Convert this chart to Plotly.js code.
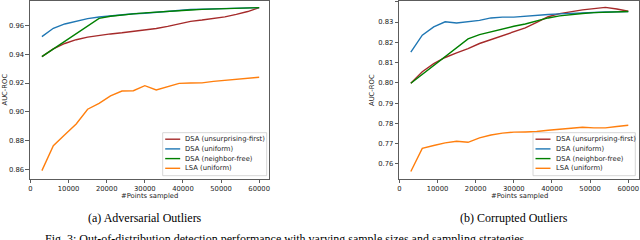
<!DOCTYPE html>
<html>
<head>
<meta charset="utf-8">
<script src="https://cdn.plot.ly/plotly-3.0.1.min.js"></script>
<style>html,body{margin:0;padding:0;background:#fff;}#chart{width:640px;height:240px;}</style>
</head>
<body>
<div id="chart"></div>
<script>
// ---- data ----
var samples = [3000, 6000, 9000, 12000, 15000, 18000, 21000, 24000, 27000, 30000,
               33000, 36000, 39000, 42000, 45000, 48000, 51000, 54000, 57000, 60000];
var samplesNeighbor = [3000, 18000, 21000, 24000, 27000, 30000, 33000, 36000,
                       39000, 42000, 45000, 48000, 51000, 54000, 57000, 60000];

var seriesNames = ['DSA (unsurprising-first)', 'DSA (uniform)', 'DSA (neighbor-free)', 'LSA (uniform)'];
var seriesColors = ['#a52a2a', '#1f77b4', '#008000', '#ff7f0e'];

// (a) Adversarial Outliers
var advUnsurprising = [0.9383, 0.9436, 0.9474, 0.9500, 0.9518, 0.9531, 0.9540, 0.9548, 0.9557, 0.9567,
                       0.9578, 0.9592, 0.9609, 0.9627, 0.9636, 0.9645, 0.9658, 0.9675, 0.9695, 0.9722];
var advUniform = [0.9521, 0.9579, 0.9609, 0.9630, 0.9646, 0.9657, 0.9665, 0.9674, 0.9680, 0.9683,
                  0.9690, 0.9698, 0.9704, 0.9709, 0.9712, 0.9714, 0.9716, 0.9718, 0.9720, 0.9722];
var advNeighbor = [0.9383, 0.9648, 0.9662, 0.9672, 0.9679, 0.9686, 0.9692, 0.9697,
                   0.9702, 0.9706, 0.9710, 0.9713, 0.9716, 0.9718, 0.9720, 0.9722];
var advLSA = [0.8594, 0.8767, 0.8842, 0.8917, 0.9019, 0.9060, 0.9111, 0.9145, 0.9147, 0.9182,
              0.9152, 0.9175, 0.9198, 0.9200, 0.9201, 0.9212, 0.9220, 0.9229, 0.9233, 0.9240];

// (b) Corrupted Outliers
var corUnsurprising = [0.7998, 0.8055, 0.8095, 0.8125, 0.8148, 0.8169, 0.8194, 0.8214, 0.8232, 0.8251,
                       0.8271, 0.8298, 0.8326, 0.8341, 0.8352, 0.8360, 0.8366, 0.8372, 0.8364, 0.8353];
var corUniform = [0.8152, 0.8235, 0.8276, 0.8301, 0.8295, 0.8300, 0.8308, 0.8320, 0.8324, 0.8324,
                  0.8329, 0.8333, 0.8337, 0.8340, 0.8343, 0.8346, 0.8348, 0.8349, 0.8350, 0.8351];
var corNeighbor = [0.7998, 0.8217, 0.8238, 0.8252, 0.8266, 0.8279, 0.8290, 0.8306,
                   0.8320, 0.8330, 0.8337, 0.8342, 0.8346, 0.8349, 0.8351, 0.8352];
var corLSA = [0.7563, 0.7677, 0.7691, 0.7704, 0.7712, 0.7707, 0.7729, 0.7743, 0.7752, 0.7757,
              0.7758, 0.7760, 0.7766, 0.7770, 0.7776, 0.7781, 0.7778, 0.7778, 0.7785, 0.7791];

var xTicks = [0, 10000, 20000, 30000, 40000, 50000, 60000];
var advYTicks = [0.86, 0.88, 0.90, 0.92, 0.94, 0.96];
var corYTicks = [0.76, 0.77, 0.78, 0.79, 0.80, 0.81, 0.82, 0.83, 0.84];

var xTitle = '#Points sampled';
var yTitle = 'AUC-ROC';
var captionA = '(a) Adversarial Outliers';
var captionB = '(b) Corrupted Outliers';
var figCaption = 'Fig. 3: Out-of-distribution detection performance with varying sample sizes and sampling strategies.';

// ---- traces ----
var FONT = 'DejaVu Sans, sans-serif';
var SERIF = 'Liberation Serif, Times New Roman, serif';
function line(x, y, i, xa, ya) {
  return {x: x, y: y, type: 'scatter', mode: 'lines', name: seriesNames[i],
          xaxis: xa, yaxis: ya, showlegend: false,
          line: {color: seriesColors[i], width: 1.4}, hoverinfo: 'skip'};
}
var data = [
  line(samples, advUnsurprising, 0, 'x', 'y'),
  line(samples, advUniform, 1, 'x', 'y'),
  line(samplesNeighbor, advNeighbor, 2, 'x', 'y'),
  line(samples, advLSA, 3, 'x', 'y'),
  line(samples, corUnsurprising, 0, 'x2', 'y2'),
  line(samples, corUniform, 1, 'x2', 'y2'),
  line(samplesNeighbor, corNeighbor, 2, 'x2', 'y2'),
  line(samples, corLSA, 3, 'x2', 'y2')
];

// ---- layout ----
function PX(v) { return v / 640; }
function PY(v) { return 1 - v / 240; }
var tickFont = {family: FONT, size: 6.8, color: '#222'};
function axisBase() {
  return {showline: true, mirror: true, linecolor: '#333', linewidth: 0.8,
          ticks: 'outside', ticklen: 3.5, tickwidth: 0.8, tickcolor: '#333',
          showgrid: false, zeroline: false, tickfont: tickFont, fixedrange: true};
}
var yDom = [PY(179), PY(0.7)];
var xaxis = Object.assign(axisBase(), {domain: [PX(29.7), PX(269.2)], range: [-200, 62630],
  anchor: 'y', tickvals: xTicks, ticktext: xTicks.map(String)});
var xaxis2 = Object.assign(axisBase(), {domain: [PX(399), PX(638.7)], range: [-100, 62730],
  anchor: 'y2', tickvals: xTicks, ticktext: xTicks.map(String)});
var yaxis = Object.assign(axisBase(), {domain: yDom, range: [0.8536, 0.9770], anchor: 'x',
  tickvals: advYTicks, ticktext: advYTicks.map(function(v){return v.toFixed(2);})});
var yaxis2 = Object.assign(axisBase(), {domain: yDom, range: [0.7526, 0.8405], anchor: 'x2',
  tickvals: corYTicks, ticktext: corYTicks.map(function(v){return v.toFixed(2);})});

var annotations = [];
var shapes = [];
function txt(t, x, y, opts) {
  annotations.push(Object.assign({text: t, xref: 'paper', yref: 'paper', x: PX(x), y: PY(y),
    showarrow: false, xanchor: 'center', yanchor: 'middle',
    font: {family: FONT, size: 6.8, color: '#222'}}, opts || {}));
}
txt(xTitle, 149.5, 196);
txt(xTitle, 519, 196);
txt(yTitle, 4.5, 90, {textangle: -90});
txt(yTitle, 372, 90, {textangle: -90});
txt(captionA, 145, 218, {font: {family: SERIF, size: 12, color: '#000'}});
txt(captionB, 514, 218, {font: {family: SERIF, size: 12, color: '#000'}});
txt(figCaption, 43, 238.5, {xanchor: 'left', font: {family: SERIF, size: 12, color: '#000'}});

// legends (one per panel)
function legend(x0, w) {
  var top = 132.7, bottom = 175.7;
  shapes.push({type: 'rect', xref: 'paper', yref: 'paper', x0: PX(x0), x1: PX(x0 + w),
    y0: PY(bottom), y1: PY(top), fillcolor: 'rgba(255,255,255,0.85)',
    line: {color: '#cccccc', width: 0.8}, layer: 'above'});
  var rows = [139.2, 148.9, 158.6, 168.3];
  for (var i = 0; i < seriesNames.length; i++) {
    shapes.push({type: 'line', xref: 'paper', yref: 'paper', x0: PX(x0 + 2.5), x1: PX(x0 + 17.5),
      y0: PY(rows[i]), y1: PY(rows[i]), line: {color: seriesColors[i], width: 1.4}, layer: 'above'});
    txt(seriesNames[i], x0 + 20.5, rows[i], {xanchor: 'left'});
  }
}
legend(162.7, 104);
legend(533, 102.3);

var layout = {width: 640, height: 240, margin: {l: 0, r: 0, t: 0, b: 0},
  paper_bgcolor: '#fff', plot_bgcolor: '#fff', showlegend: false,
  xaxis: xaxis, yaxis: yaxis, xaxis2: xaxis2, yaxis2: yaxis2,
  annotations: annotations, shapes: shapes};

Plotly.newPlot('chart', data, layout, {staticPlot: true, displayModeBar: false});
</script>
</body>
</html>
